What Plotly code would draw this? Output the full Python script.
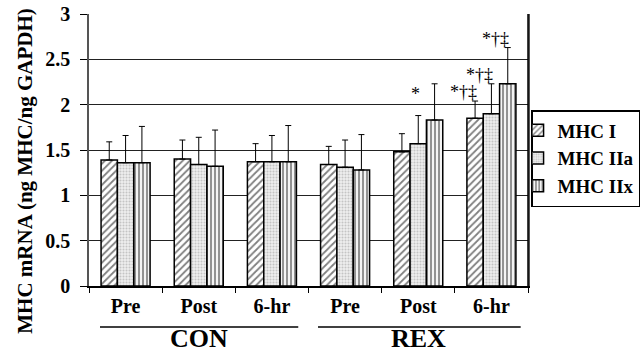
import plotly.graph_objects as go

# ---- data ----
time_labels = ["Pre", "Post", "6-hr", "Pre", "Post", "6-hr"]
groups = ["CON", "REX"]
series_names = ["MHC I", "MHC IIa", "MHC IIx"]
mhc_i = [1.39, 1.40, 1.37, 1.34, 1.48, 1.85]
mhc_i_err = [0.20, 0.21, 0.20, 0.20, 0.20, 0.19]
mhc_iia = [1.36, 1.34, 1.37, 1.31, 1.57, 1.90]
mhc_iia_err = [0.30, 0.30, 0.29, 0.30, 0.31, 0.33]
mhc_iix = [1.36, 1.32, 1.37, 1.28, 1.83, 2.23]
mhc_iix_err = [0.40, 0.40, 0.40, 0.39, 0.40, 0.40]
y_ticks = [0, 0.5, 1, 1.5, 2, 2.5, 3]
# significance marks: (category index, series index, text)
sig_marks = [(4, 1, "*"), (5, 0, "*†‡"), (5, 1, "*†‡"), (5, 2, "*†‡")]

values = [mhc_i, mhc_iia, mhc_iix]
errors = [mhc_i_err, mhc_iia_err, mhc_iix_err]
patterns = [
    dict(shape="/", fgcolor="black", bgcolor="white", size=5, solidity=0.35),
    dict(shape=".", fgcolor="#9a9a9a", bgcolor="#efefef", size=3, solidity=0.4),
    dict(shape="|", fgcolor="#303030", bgcolor="#f4f4f4", size=4, solidity=0.5),
]

FONT = "Liberation Serif"
xs = list(range(len(time_labels)))
bargap = 0.33
bw = (1 - bargap) / 3

fig = go.Figure()
for i, name in enumerate(series_names):
    fig.add_trace(go.Bar(
        x=xs, y=values[i], name="<b>%s</b>" % name,
        marker=dict(color="white", pattern=patterns[i],
                    line=dict(color="black", width=1.5)),
        error_y=dict(type="data", symmetric=False, array=errors[i],
                     arrayminus=[0] * len(xs), color="black",
                     thickness=1, width=3),
    ))

annotations = []
for ci, si, txt in sig_marks:
    top = values[si][ci] + errors[si][ci]
    xpos = ci + (si - 1) * bw
    annotations.append(dict(
        x=xpos, y=top, xref="x", yref="y", text=txt, showarrow=False,
        xanchor="center", yanchor="bottom",
        xshift=-3 if txt == "*" else -12, yshift=10 if txt == "*" else -3,
        font=dict(family=FONT, size=18, color="black")))

# group labels
for gi, g in enumerate(groups):
    annotations.append(dict(
        x=1 + 3 * gi, y=-0.2537, xref="x", yref="paper", text="<b>%s</b>" % g,
        showarrow=False, xanchor="center", yanchor="bottom",
        font=dict(family=FONT, size=26, color="black")))

# y title
annotations.append(dict(
    x=0, y=0.42, xref="paper", yref="paper", xshift=-64,
    text="<b>MHC mRNA (ng MHC/ng GAPDH)</b>", textangle=-90,
    showarrow=False, xanchor="center", yanchor="middle",
    font=dict(family=FONT, size=21, color="black")))

shapes = [
    dict(type="line", xref="x", yref="paper", x0=-0.35, x1=2.36, y0=-0.151, y1=-0.151,
         line=dict(color="black", width=1.5)),
    dict(type="line", xref="x", yref="paper", x0=2.63, x1=5.40, y0=-0.151, y1=-0.151,
         line=dict(color="black", width=1.5)),
    dict(type="line", xref="paper", yref="paper", x0=1, x1=1, y0=0, y1=1,
         line=dict(color="black", width=1.5)),
]

fig.update_layout(
    width=642, height=356,
    margin=dict(l=89, r=114, t=14, b=70, autoexpand=False),
    paper_bgcolor="white", plot_bgcolor="white",
    barmode="group", bargap=bargap, bargroupgap=0,
    showlegend=True,
    legend=dict(x=1.007, y=0.647, xanchor="left", yanchor="top",
                bordercolor="black", borderwidth=1.5, bgcolor="white",
                font=dict(family=FONT, size=19, color="black"),
                indentation=-15, itemwidth=30, tracegroupgap=0),
    font=dict(family=FONT, color="black"),
    annotations=annotations, shapes=shapes,
)
fig.update_xaxes(
    range=[-0.5, 5.5], tickmode="array", tickvals=xs,
    ticktext=["<b>%s</b>" % t for t in time_labels],
    ticks="", showgrid=False, zeroline=False, automargin=False,
    showline=True, linecolor="black", linewidth=1.5, mirror=False,
    tickfont=dict(family=FONT, size=20, color="black"),
    ticklabelstandoff=1,
    minor=dict(tickvals=[x - 0.5 for x in range(7)], ticks="outside",
               ticklen=5, tickcolor="black", tickwidth=1),
)
fig.update_yaxes(
    range=[0, 3], tickvals=y_ticks,
    ticktext=["<b>%g</b>" % t for t in y_ticks],
    ticks="outside", ticklen=7, tickcolor="black", automargin=False,
    ticklabelstandoff=6,
    showgrid=True, gridcolor="#222", gridwidth=1, zeroline=False,
    showline=True, linecolor="#555", linewidth=1.5, mirror=True,
    tickfont=dict(family=FONT, size=20, color="black"),
)

fig.write_html("out.html")
